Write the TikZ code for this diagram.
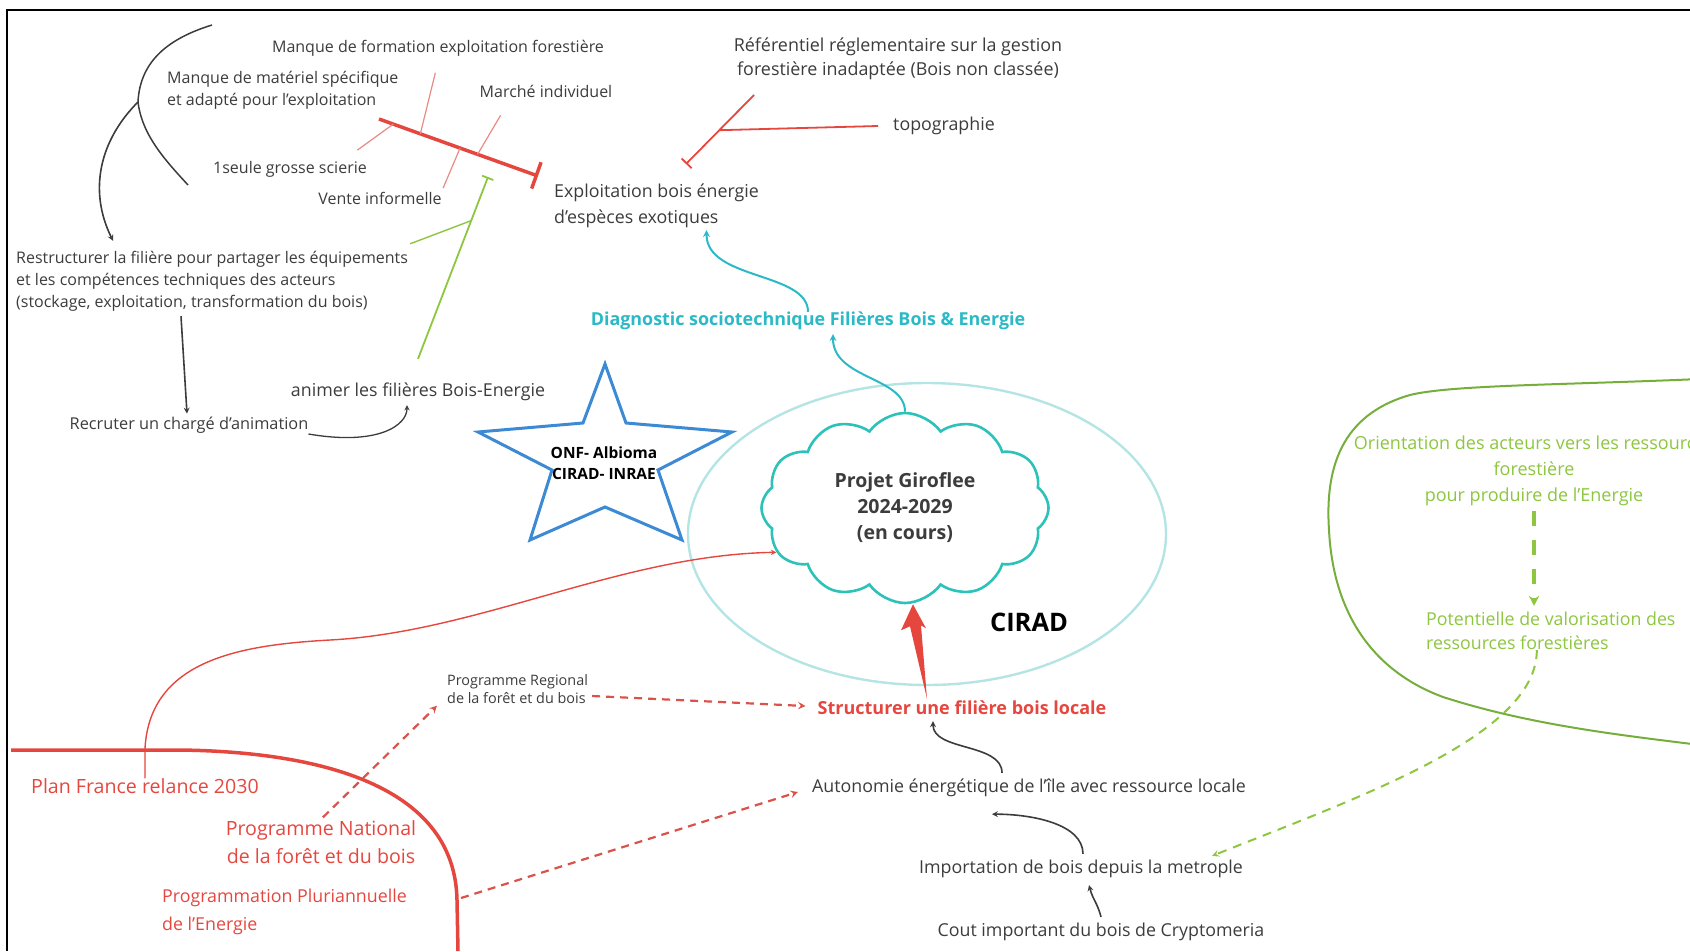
\documentclass[tikz,border=0pt]{standalone}
\usepackage{fontspec}
\setmainfont{Open Sans}
\usetikzlibrary{positioning,calc,arrows.meta,shapes.geometric,shapes.symbols}

\definecolor{texte}{HTML}{3C3C3C}
\definecolor{rouge}{HTML}{E5473F}
\definecolor{rougeclair}{HTML}{E98A83}
\definecolor{brique}{HTML}{D9534A}
\definecolor{cyanf}{HTML}{2BB9C6}
\definecolor{turquoise}{HTML}{2CC2BA}
\definecolor{ciel}{HTML}{B4E4E4}
\definecolor{bleu}{HTML}{3C8AD4}
\definecolor{vert}{HTML}{8DC63F}
\definecolor{vertf}{HTML}{76AE3C}

\begin{document}
\begin{tikzpicture}[x=1pt, y=-1pt, >=stealth,
    lbl/.style={inner sep=0pt, align=center, text=texte, font=\fontsize{17.8}{23}\selectfont},
    petit/.style={lbl, font=\fontsize{16}{22}\selectfont},
    rougelbl/.style={lbl, text=rouge, font=\fontsize{19.6}{28}\selectfont},
    vertlbl/.style={lbl, text=vert, font=\fontsize{18}{26}\selectfont},
    gras/.style={lbl, font=\bfseries\fontsize{17.9}{25}\selectfont},
    noir/.style={->, line width=1.6pt, texte},
    arete/.style={rougeclair, line width=1.2pt},
    pointille/.style={->, line width=2.2pt, brique, dash pattern=on 8pt off 6pt}]

  \useasboundingbox (0,0) rectangle (1690,951);
  \clip (0,0) rectangle (1690,951);

  % Cadre
  \draw[line width=1.8pt] (7,951) -- (7,10) -- (1690,10);

  % Causes (haut gauche)
  \node[petit] (formation) at (438,48) {Manque de formation exploitation forestière};
  \node[petit, align=left, anchor=west] (materiel) at (167,90) {Manque de matériel spécifique\\et adapté pour l'exploitation};
  \node[petit] (marche) at (546,91) {Marché individuel};
  \node[petit] (scierie) at (290,169) {1seule grosse scierie};
  \node[petit] (vente) at (380,198) {Vente informelle};
  \node[petit, align=left, anchor=west] (restructurer) at (16,281) {Restructurer la filière pour partager les équipements\\et les compétences techniques des acteurs\\(stockage, exploitation, transformation du bois)};
  \node[lbl, font=\fontsize{16.3}{22}\selectfont] (recruter) at (189,425) {Recruter un chargé d'animation};
  \node[lbl] (animer) at (418,392) {animer les filières Bois-Energie};

  % Exploitation et contraintes
  \node[lbl, align=left, anchor=west, font=\fontsize{17.8}{26}\selectfont] (exploitation) at (554,206) {Exploitation bois énergie\\d'espèces exotiques};
  \node[lbl, font=\fontsize{17.9}{24}\selectfont] (referentiel) at (898,59) {Référentiel réglementaire sur la gestion\\forestière inadaptée (Bois non classée)};
  \node[lbl] (topo) at (944,126) {topographie};

  % Diagnostic
  \node[gras, text=cyanf] (diagnostic) at (808,321) {Diagnostic sociotechnique Filières Bois \& Energie};

  % CIRAD et projet
  \node[ellipse, draw=ciel, line width=2.4pt, minimum width=478pt, minimum height=302pt] (cirad) at (927,534) {};
  \node[cloud, draw=turquoise, line width=2.6pt, fill=white, cloud puffs=12, cloud puff arc=110, cloud ignores aspect,
        minimum width=287pt, minimum height=190pt, inner sep=0pt, align=center,
        font=\bfseries\fontsize{19.5}{26}\selectfont, text=texte] (projet) at (905,508) {Projet Giroflee\\2024-2029\\(en cours)};
  \node[gras, font=\bfseries\fontsize{25.5}{30}\selectfont, text=black] (ciradlbl) at (1029,622) {CIRAD};

  % Partenaires
  \draw[bleu, line width=3pt] (605,364) -- (626,423) -- (732,432) -- (658,470) -- (682,540) -- (605,507)
    -- (530,540) -- (552,470) -- (478,432) -- (583,423) -- cycle;
  \node[gras, font=\bfseries\fontsize{15.5}{21}\selectfont, text=black] (partenaires) at (604,463) {ONF- Albioma\\CIRAD- INRAE};

  % Politiques publiques
  \node[gras, text=rouge, font=\bfseries\fontsize{18}{25}\selectfont] (structurer) at (962,708) {Structurer une filière bois locale};
  \node[lbl, align=left, anchor=west, font=\fontsize{14.4}{18}\selectfont] (regional) at (447,689) {Programme Regional\\de la forêt et du bois};
  \node[rougelbl] (plan) at (145,786) {Plan France relance 2030};
  \node[rougelbl] (national) at (321,842) {Programme National\\de la forêt et du bois};
  \node[rougelbl, align=left, anchor=west, font=\fontsize{17.8}{28}\selectfont] (pluri) at (162,912) {Programmation Pluriannuelle\\de l'Energie};

  % Energie
  \node[lbl] (autonomie) at (1029,788) {Autonomie énergétique de l'île avec ressource locale};
  \node[lbl] (importation) at (1081,869) {Importation de bois depuis la metrople};
  \node[lbl] (cout) at (1101,932) {Cout important du bois de Cryptomeria};

  % Ressources forestieres
  \node[vertlbl] (orientation) at (1534,471) {Orientation des acteurs vers les ressources\\forestière\\pour produire de l'Energie};
  \node[vertlbl, align=left, anchor=west, font=\fontsize{17.8}{24}\selectfont] (potentiel) at (1426,631) {Potentielle de valorisation des\\ressources forestières};
  \draw[vertf, line width=2pt] (1700,379) .. controls (1560,385) and (1450,385) .. (1410,395)
    .. controls (1340,415) and (1325,470) .. (1329,530) .. controls (1333,610) and (1370,670) .. (1443,697)
    .. controls (1530,725) and (1620,735) .. (1700,745);

  % Branches noires
  \coordinate (tige) at (212,25);
  \coordinate (noeud) at (138,102);
  \draw[line width=1.5pt, texte] (tige) .. controls (170,38) and (140,60) .. (noeud) .. controls (142,135) and (165,160) .. (188,185);
  \draw[noir] (noeud) .. controls (100,140) and (88,190) .. ([xshift=97pt,yshift=10pt]restructurer.north west);
  \draw[noir] ([xshift=165pt,yshift=-5pt]restructurer.south west) -- ([xshift=-2pt,yshift=3pt]recruter.north);
  \draw[noir, line width=1.3pt] ([yshift=-9pt]recruter.east) .. controls +(70,12) and +(0,20) .. ([xshift=-11pt,yshift=-4pt]animer.south);

  % Aretes rouges
  \coordinate (a1) at (379,119);
  \coordinate (a2) at (538,176);
  \draw[rouge, line width=3.5pt, -{Bar[width=28pt]}] (a1) -- (a2);
  \draw[arete] ($(a1)!0.26!(a2)$) -- ++(15,-61);
  \draw[arete] ($(a1)!0.09!(a2)$) -- ++(-36,26);
  \draw[arete] ($(a1)!0.62!(a2)$) -- ++(23,-39);
  \draw[arete] ($(a1)!0.51!(a2)$) -- ++(-17,40);
  \coordinate (b1) at (754,95);
  \coordinate (b2) at (686,164);
  \draw[rouge, line width=1.8pt, -{Bar[width=14pt]}] (b1) -- (b2);
  \draw[rouge, line width=1.8pt] ([xshift=-15pt]topo.west) -- ($(b1)!0.51!(b2)$);

  % Fleche verte (animation)
  \coordinate (bt) at (488,177);
  \draw[vert, line width=1.8pt, -{Bar[width=12pt]}] ([yshift=24pt]animer.north) -- (bt);
  \draw[vert, line width=1.4pt] ([xshift=2pt,yshift=7pt]restructurer.north east) -- ($([yshift=24pt]animer.north)!0.76!(bt)$);

  % Fleches cyan
  \draw[->, cyanf, line width=2pt] (projet.north) .. controls +(0,-35) and +(0,45) .. ([xshift=25pt,yshift=-4pt]diagnostic.south);
  \draw[->, cyanf, line width=2pt] (diagnostic.north) .. controls +(0,-40) and +(0,50) .. ([xshift=50pt,yshift=-2pt]exploitation.south);

  % Fleches rouges
  \draw[->, rouge, line width=1.4pt] (plan.north) -- ++(0,-30) .. controls (150,660) and (240,645) .. (330,640)
    .. controls (480,632) and (620,555) .. (projet.199);
  \coordinate (queue) at ([xshift=-35pt,yshift=2pt]structurer.north);
  \coordinate (pointe) at ([xshift=8pt]projet.south);
  \fill[rouge] (queue) -- ($(pointe)+(8,21)$) -- ($(pointe)+(13,24)$) -- (pointe) -- ($(pointe)+(-12,26)$) -- ($(pointe)+(-3,22)$) -- cycle;
  \draw[rouge, line width=3.5pt] (11,750) -- (180,750) .. controls (330,752) and (455,790) .. (457,900) -- (458,951);
  \draw[pointille] ([xshift=4pt,yshift=-7pt]regional.east) -- ([xshift=-12pt,yshift=2pt]structurer.west);
  \draw[pointille] ([xshift=2pt,yshift=3pt]national.north) -- ([xshift=-10pt,yshift=-2pt]regional.south west);
  \draw[pointille] ([xshift=54pt,yshift=14pt]pluri.east) -- ([xshift=-14pt,yshift=-4pt]autonomie.west);

  % Fleches noires (energie)
  \draw[noir] ([xshift=-27pt,yshift=6pt]autonomie.north) .. controls +(0,-30) and +(0,30) .. ([xshift=-29pt,yshift=-6pt]structurer.south);
  \draw[noir] ([xshift=2pt,yshift=6pt]importation.north) .. controls +(0,-30) and +(40,0) .. ([xshift=-37pt,yshift=-17pt]autonomie.south);
  \draw[noir] ([yshift=6pt]cout.north) .. controls +(-4,-15) and +(4,15) .. ([xshift=8pt,yshift=-7pt]importation.south);

  % Fleches vertes (ressources)
  \draw[-{Stealth[length=10pt,width=10pt]}, vert, line width=3.5pt, dash pattern=on 15pt off 14pt] ([yshift=-5pt]orientation.south)
    -- ($(orientation.south |- potentiel.north)+(0,-6)$);
  \draw[->, vert, line width=2pt, dash pattern=on 9pt off 7pt] ([xshift=-14pt]potentiel.south) .. controls +(0,85) and +(150,-60)
    .. ([xshift=-31pt,yshift=4pt]importation.north east);
\end{tikzpicture}
\end{document}
